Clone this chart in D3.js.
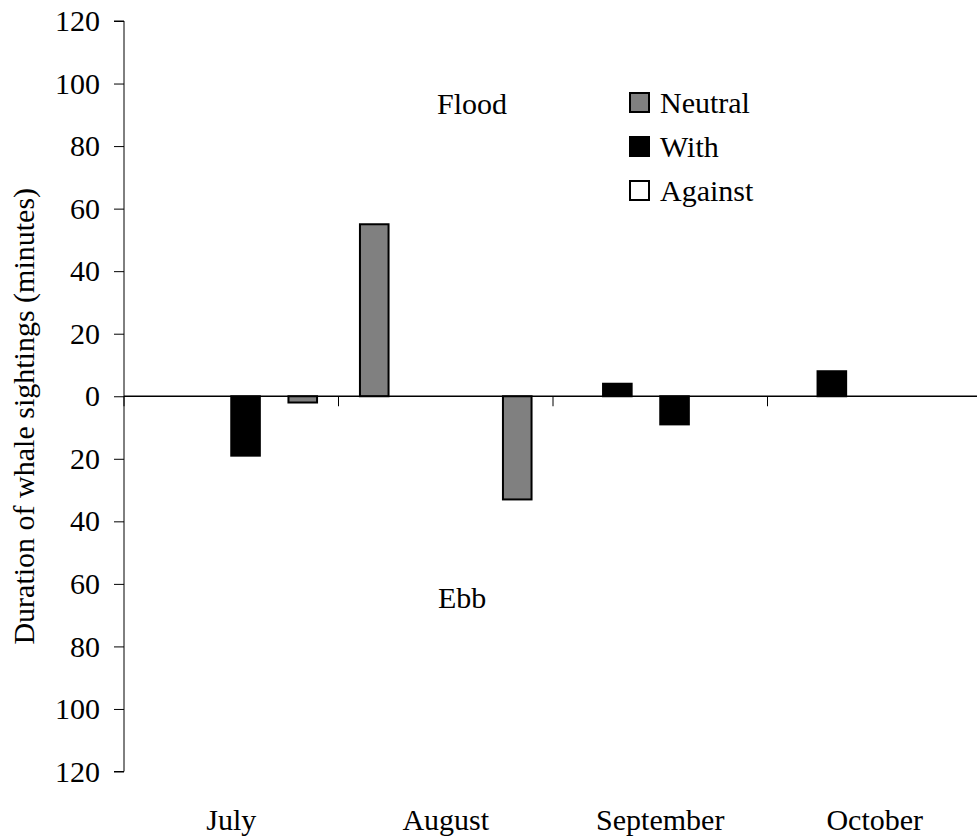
<!DOCTYPE html>
<html>
<head>
<meta charset="utf-8">
<script src="https://cdn.jsdelivr.net/npm/d3@7"></script>
</head>
<body style="margin:0;background:#fff">
<svg id="viz" width="977" height="839" style="display:block"></svg>
<script>
// ---- data ----
const months = ["July", "August", "September", "October"];
const seriesNames = ["Flood Neutral", "Flood With", "Flood Against", "Ebb With", "Ebb Against", "Ebb Neutral"];
const seriesTypes = ["Neutral", "With", "Against", "With", "Against", "Neutral"];
const floodNeutral = [0, 55, 0, 0];
const floodWith = [0, 0, 4, 8];
const floodAgainst = [0, 0, 0, 0];
const ebbWith = [-19, 0, -9, 0];
const ebbAgainst = [0, 0, 0, 0];
const ebbNeutral = [-2, -33, 0, 0];
const seriesValues = [floodNeutral, floodWith, floodAgainst, ebbWith, ebbAgainst, ebbNeutral];
const yTickValues = [120, 100, 80, 60, 40, 20, 0, -20, -40, -60, -80, -100, -120];
const legendItems = ["Neutral", "With", "Against"];
const typeFill = { Neutral: "#808080", With: "#000000", Against: "#ffffff" };

// ---- layout ----
const FONT = "Liberation Serif";
const svg = d3.select("#viz");
const plotLeft = 124, plotRight = 982, plotTop = 21, plotBottom = 771.5;
const fontSize = 30;

function styleText(sel) {
  return sel.attr("font-family", FONT).attr("font-size", fontSize).attr("fill", "#000")
    .attr("style", "font-family: 'Liberation Serif', serif !important; font-size: 30px;");
}

const x = d3.scaleBand().domain(months).range([plotLeft, plotRight]).paddingInner(0).paddingOuter(0);
const xs = d3.scaleBand().domain(seriesNames).range([0, x.bandwidth()]).paddingInner(0).paddingOuter(0.75);
const y = d3.scaleLinear().domain([-120, 120]).range([plotBottom, plotTop]);

// bars
const bars = [];
seriesNames.forEach((s, i) => {
  months.forEach((m, j) => {
    const v = seriesValues[i][j];
    if (v !== 0) bars.push({ series: s, type: seriesTypes[i], month: m, value: v });
  });
});

svg.append("g").selectAll("rect").data(bars).join("rect")
  .attr("x", d => x(d.month) + xs(d.series))
  .attr("width", xs.bandwidth())
  .attr("y", d => y(Math.max(0, d.value)))
  .attr("height", d => Math.abs(y(d.value) - y(0)))
  .attr("fill", d => typeFill[d.type])
  .attr("stroke", "#000")
  .attr("stroke-width", 2);

// y axis
const yAxis = d3.axisLeft(y).tickValues(yTickValues).tickSize(10).tickPadding(14)
  .tickFormat(d => String(Math.abs(d)));
const gy = svg.append("g").attr("transform", `translate(${plotLeft},0)`).call(yAxis)
  .attr("font-family", FONT).attr("font-size", fontSize);
gy.select(".domain").attr("d", `M-10,${y(120)}H0V${y(-120)}H-10`).attr("stroke", "#000").attr("stroke-width", 1);
gy.selectAll(".tick line").attr("stroke", "#000");
styleText(gy.selectAll(".tick text"));

// x zero line with boundary ticks
const gx = svg.append("g");
gx.append("line").attr("x1", plotLeft).attr("x2", plotRight).attr("y1", y(0)).attr("y2", y(0))
  .attr("stroke", "#000").attr("stroke-width", 1.5);
const boundaries = months.map(m => x(m)).concat([x(months[months.length - 1]) + x.bandwidth()]);
gx.selectAll("line.bt").data(boundaries).join("line").attr("class", "bt")
  .attr("x1", d => d).attr("x2", d => d).attr("y1", y(0)).attr("y2", y(0) + 10)
  .attr("stroke", "#000").attr("stroke-width", 1);

// month labels
styleText(svg.append("g").selectAll("text").data(months).join("text")
  .attr("x", d => x(d) + x.bandwidth() / 2)
  .attr("y", 830)
  .attr("text-anchor", "middle")
  .text(d => d));

// y axis title
styleText(svg.append("text")
  .attr("transform", `translate(34,${(plotTop + plotBottom) / 2 + 20}) rotate(-90)`)
  .attr("text-anchor", "middle")
  .text("Duration of whale sightings (minutes)"));

// Flood / Ebb labels
styleText(svg.append("text").attr("x", 437).attr("y", 114).text("Flood"));
styleText(svg.append("text").attr("x", 438).attr("y", 608).text("Ebb"));

// legend
const lg = svg.append("g").selectAll("g").data(legendItems).join("g")
  .attr("transform", (d, i) => `translate(630,${93 + i * 44})`);
lg.append("rect").attr("width", 19).attr("height", 19)
  .attr("fill", d => typeFill[d]).attr("stroke", "#000").attr("stroke-width", 2);
styleText(lg.append("text").attr("x", 30).attr("y", 20).text(d => d));
</script>
</body>
</html>
